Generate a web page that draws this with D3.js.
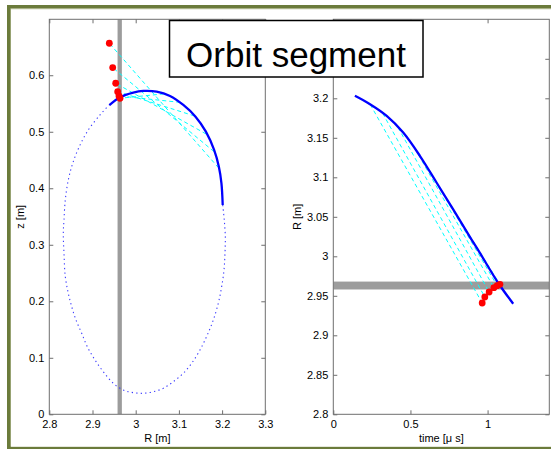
<!DOCTYPE html>
<html>
<head>
<meta charset="utf-8">
<script src="https://cdn.jsdelivr.net/npm/d3@7"></script>
<style>
  body { margin: 0; background: #fff; }
  svg { display: block; }
  text { font-family: "Liberation Sans", Arial, sans-serif; fill: #000; }
</style>
</head>
<body>
<div id="chart"></div>
<script>
// Full orbit in the poloidal plane (dotted), from the segment end round the bottom
const orbitR = [3.2014, 3.205, 3.2074, 3.2067, 3.2044, 3.199, 3.1912, 3.1796, 3.1657, 3.1488, 3.1296, 3.1102, 3.087, 3.0639, 3.0407, 3.0176, 2.9944, 2.9713, 2.9481, 2.925, 2.9058, 2.888, 2.875, 2.8618, 2.8519, 2.844, 2.837, 2.834, 2.8324, 2.834, 2.837, 2.844, 2.8542, 2.8694, 2.8903, 2.9174, 2.9367, 2.939];
const orbitZ = [0.3704, 0.344, 0.3143, 0.285, 0.2554, 0.2258, 0.1965, 0.1669, 0.1404, 0.1138, 0.0903, 0.0726, 0.0577, 0.046, 0.04, 0.0372, 0.0383, 0.043, 0.0549, 0.0754, 0.0961, 0.1196, 0.1434, 0.1669, 0.1904, 0.214, 0.2436, 0.285, 0.32, 0.344, 0.3793, 0.4147, 0.4442, 0.4736, 0.5032, 0.5297, 0.5457, 0.547];

// Orbit segment (solid), R-z
const segR = [3.2014, 3.1985, 3.1925, 3.1815, 3.1625, 3.1385, 3.1102, 3.0794, 3.0486, 3.0176, 2.9944, 2.9637, 2.939];
const segZ = [0.3704, 0.4088, 0.4382, 0.4678, 0.5002, 0.5267, 0.5474, 0.5634, 0.571, 0.5722, 0.5693, 0.561, 0.547];

// Orbit segment (solid), R vs time
const segT = [0.14, 0.238, 0.346, 0.453, 0.562, 0.670, 0.777, 0.896, 0.950, 1.069, 1.166];
const segTR = [3.2031, 3.1925, 3.1777, 3.1566, 3.1269, 3.0931, 3.0593, 3.0212, 3.0043, 2.9662, 2.94];

// Red points
const hitR = [2.9389, 2.9467, 2.9537, 2.9583, 2.9613, 2.9637];
const hitZ = [0.6566, 0.6135, 0.5858, 0.571, 0.5634, 0.5593];
const hitT = [0.965, 0.982, 1.010, 1.041, 1.062, 1.080];
const hitTR = [2.9409, 2.9485, 2.9548, 2.9603, 2.9628, 2.9645];

// Start of each cyan dashed line on the orbit
const losR = [3.192, 3.181, 3.163, 3.136, 3.103, 3.065];
const losZ = [0.436, 0.465, 0.496, 0.528, 0.552, 0.567];
const losT = [0.24, 0.32, 0.42, 0.53, 0.64, 0.76];
const losTR = [3.192, 3.181, 3.163, 3.136, 3.103, 3.065];

// Gray wall band
const wallLo = 2.958;
const wallHi = 2.968;

// Axis ticks (labels hidden under the title box are left out)
const leftXTicks = [2.8, 2.9, 3, 3.1, 3.2, 3.3];
const leftYTicks = [0, 0.1, 0.2, 0.3, 0.4, 0.5, 0.6];
const rightXTicks = [0, 0.5, 1];
const rightYTicks = [2.8, 2.85, 2.9, 2.95, 3, 3.05, 3.1, 3.15, 3.2];
const rightYTicksOpposite = [2.8, 2.85, 2.9, 2.95, 3, 3.05, 3.1, 3.15, 3.2, 3.25];

const W = 551, H = 449;
const axisColor = '#6e6e6e';

const svg = d3.select('#chart').append('svg')
  .attr('width', W)
  .attr('height', H);

// Olive slide frame
svg.append('rect').attr('x', 7).attr('y', 5).attr('width', 600).attr('height', 460).attr('fill', '#6b7b3b');
svg.append('rect').attr('x', 10.5).attr('y', 8.3).attr('width', 600).attr('height', 438.4).attr('fill', '#c3caa9');
svg.append('rect').attr('x', 11).attr('y', 9.3).attr('width', 600).attr('height', 437.4).attr('fill', '#fff');

// Panel geometry
const left = { x0: 49.3, x1: 265.3, y0: 19.3, y1: 414.3 };
const right = { x0: 333.3, x1: 549.3, y0: 19.3, y1: 414.3 };

const xL = d3.scaleLinear().domain([2.8, 3.3]).range([left.x0, left.x1]);
const yL = d3.scaleLinear().domain([0, 0.699]).range([left.y1, left.y0]);
const xR = d3.scaleLinear().domain([0, 1.4]).range([right.x0, right.x1]);
const yR = d3.scaleLinear().domain([2.8, 3.3]).range([right.y1, right.y0]);

function drawAxes(g, x, y, box, xTicks, yTicks, yTicksOpp) {
  const fmt = d => String(d);
  g.append('g')
    .attr('transform', `translate(0,${box.y1})`)
    .call(d3.axisBottom(x).tickValues(xTicks).tickFormat(fmt).tickSizeInner(-4).tickSizeOuter(0).tickPadding(6));
  g.append('g')
    .attr('transform', `translate(0,${box.y0})`)
    .call(d3.axisTop(x).tickValues(xTicks).tickFormat('').tickSizeInner(-4).tickSizeOuter(0));
  g.append('g')
    .attr('transform', `translate(${box.x0},0)`)
    .call(d3.axisLeft(y).tickValues(yTicks).tickFormat(fmt).tickSizeInner(-4).tickSizeOuter(0).tickPadding(5));
  g.append('g')
    .attr('transform', `translate(${box.x1},0)`)
    .call(d3.axisRight(y).tickValues(yTicksOpp).tickFormat('').tickSizeInner(-4).tickSizeOuter(0));

  g.selectAll('.domain').remove();
  g.selectAll('.tick line').attr('stroke', axisColor);
  g.selectAll('.tick text')
    .attr('font-size', 11)
    .attr('font-family', '"Liberation Sans", Arial, sans-serif')
    .attr('fill', '#000');

  g.append('rect')
    .attr('x', box.x0).attr('y', box.y0)
    .attr('width', box.x1 - box.x0).attr('height', box.y1 - box.y0)
    .attr('fill', 'none').attr('stroke', axisColor).attr('stroke-width', 1);
}

function clipFor(id, box) {
  svg.append('clipPath').attr('id', id)
    .append('rect')
    .attr('x', box.x0).attr('y', box.y0)
    .attr('width', box.x1 - box.x0).attr('height', box.y1 - box.y0);
}
clipFor('clipL', left);
clipFor('clipR', right);

// ---- Left panel: z vs R ----
const gL = svg.append('g');
const pL = gL.append('g').attr('clip-path', 'url(#clipL)');

pL.append('rect')
  .attr('x', xL(wallLo)).attr('y', left.y0)
  .attr('width', xL(wallHi) - xL(wallLo)).attr('height', left.y1 - left.y0)
  .attr('fill', '#9c9c9c');

const lineL = d3.line().x(d => xL(d[0])).y(d => yL(d[1])).curve(d3.curveCatmullRom);

pL.append('path')
  .datum(orbitR.map((r, i) => [r, orbitZ[i]]))
  .attr('d', lineL)
  .attr('fill', 'none').attr('stroke', '#3a3aff').attr('stroke-width', 1.1)
  .attr('stroke-dasharray', '1.3,3.2');

hitR.forEach((r, i) => {
  pL.append('line')
    .attr('x1', xL(losR[i])).attr('y1', yL(losZ[i]))
    .attr('x2', xL(r)).attr('y2', yL(hitZ[i]))
    .attr('stroke', '#00ffff').attr('stroke-width', 1)
    .attr('stroke-dasharray', '4,3');
});

pL.append('path')
  .datum(segR.map((r, i) => [r, segZ[i]]))
  .attr('d', lineL)
  .attr('fill', 'none').attr('stroke', '#0000ff').attr('stroke-width', 2.3);

pL.selectAll('circle.hit')
  .data(hitR.map((r, i) => [r, hitZ[i]]))
  .join('circle')
  .attr('cx', d => xL(d[0])).attr('cy', d => yL(d[1]))
  .attr('r', 3.4).attr('fill', '#ff0000');

drawAxes(gL, xL, yL, left, leftXTicks, leftYTicks, leftYTicks);

gL.append('text')
  .attr('x', (left.x0 + left.x1) / 2).attr('y', 441.5)
  .attr('text-anchor', 'middle').attr('font-size', 11)
  .text('R [m]');
gL.append('text')
  .attr('transform', `translate(24,${(left.y0 + left.y1) / 2}) rotate(-90)`)
  .attr('text-anchor', 'middle').attr('font-size', 11)
  .text('z [m]');

// ---- Right panel: R vs time ----
const gR = svg.append('g');
const pR = gR.append('g').attr('clip-path', 'url(#clipR)');

pR.append('rect')
  .attr('x', right.x0).attr('y', yR(wallHi))
  .attr('width', right.x1 - right.x0).attr('height', yR(wallLo) - yR(wallHi))
  .attr('fill', '#9c9c9c');

hitT.forEach((t, i) => {
  pR.append('line')
    .attr('x1', xR(losT[i])).attr('y1', yR(losTR[i]))
    .attr('x2', xR(t)).attr('y2', yR(hitTR[i]))
    .attr('stroke', '#00ffff').attr('stroke-width', 1)
    .attr('stroke-dasharray', '4,3');
});

const lineR = d3.line().x(d => xR(d[0])).y(d => yR(d[1])).curve(d3.curveCatmullRom);
pR.append('path')
  .datum(segT.map((t, i) => [t, segTR[i]]))
  .attr('d', lineR)
  .attr('fill', 'none').attr('stroke', '#0000ff').attr('stroke-width', 2.3);

pR.selectAll('circle.hit')
  .data(hitT.map((t, i) => [t, hitTR[i]]))
  .join('circle')
  .attr('cx', d => xR(d[0])).attr('cy', d => yR(d[1]))
  .attr('r', 3.4).attr('fill', '#ff0000');

drawAxes(gR, xR, yR, right, rightXTicks, rightYTicks, rightYTicksOpposite);

gR.append('text')
  .attr('x', (right.x0 + right.x1) / 2).attr('y', 441.5)
  .attr('text-anchor', 'middle').attr('font-size', 11)
  .text('time [\u03bc s]');
gR.append('text')
  .attr('transform', `translate(301,${(right.y0 + right.y1) / 2}) rotate(-90)`)
  .attr('text-anchor', 'middle').attr('font-size', 11)
  .text('R [m]');

// ---- Title box ----
svg.append('rect')
  .attr('x', 169.5).attr('y', 20.5).attr('width', 253.5).attr('height', 56.5)
  .attr('fill', '#fff').attr('stroke', '#000').attr('stroke-width', 1.5);
svg.append('text')
  .attr('x', 296).attr('y', 67)
  .attr('text-anchor', 'middle').attr('font-size', 35)
  .text('Orbit segment');
</script>
</body>
</html>
